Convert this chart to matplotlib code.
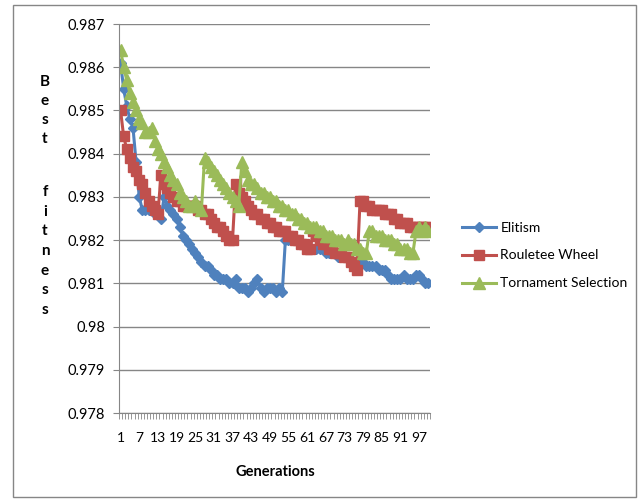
import numpy as np
import matplotlib
matplotlib.use("Agg")
import matplotlib.pyplot as plt
from matplotlib.patches import Rectangle

plt.rcParams['font.family'] = ['Lato', 'DejaVu Sans']

# generations 1..100
generations = np.arange(1, 101)

elitism = [0.9861, 0.9855, 0.9851, 0.9848, 0.9846, 0.9838, 0.9830, 0.9827, 0.9827, 0.9827,
           0.9827, 0.9826, 0.9826, 0.9825, 0.9830, 0.9828, 0.9827, 0.9826, 0.9825, 0.9823,
           0.9821, 0.9820, 0.9819, 0.9818, 0.9817, 0.9816, 0.9815, 0.9814, 0.9814, 0.9813,
           0.9812, 0.9812, 0.9811, 0.9811, 0.9811, 0.9810, 0.9810, 0.9811, 0.9809, 0.9809,
           0.9809, 0.9808, 0.9809, 0.9810, 0.9811, 0.9809, 0.9808, 0.9809, 0.9809, 0.9809,
           0.9808, 0.9809, 0.9808, 0.9820, 0.9820, 0.9821, 0.9820, 0.9820, 0.9819, 0.9819,
           0.9819, 0.9818, 0.9818, 0.9818, 0.9818, 0.9818, 0.9817, 0.9817, 0.9817, 0.9817,
           0.9816, 0.9816, 0.9816, 0.9816, 0.9815, 0.9815, 0.9815, 0.9815, 0.9815, 0.9814,
           0.9814, 0.9814, 0.9814, 0.9813, 0.9813, 0.9813, 0.9812, 0.9811, 0.9811, 0.9811,
           0.9811, 0.9812, 0.9811, 0.9811, 0.9811, 0.9812, 0.9812, 0.9811, 0.9810, 0.9810]

roulette = [0.9850, 0.9844, 0.9841, 0.9839, 0.9837, 0.9836, 0.9834, 0.9833, 0.9831, 0.9829,
            0.9828, 0.9827, 0.9826, 0.9835, 0.9833, 0.9832, 0.9831, 0.9830, 0.9829, 0.9829,
            0.9828, 0.9828, 0.9828, 0.9828, 0.9828, 0.9827, 0.9827, 0.9826, 0.9826, 0.9825,
            0.9824, 0.9823, 0.9823, 0.9822, 0.9821, 0.9820, 0.9820, 0.9833, 0.9831, 0.9830,
            0.9829, 0.9828, 0.9827, 0.9826, 0.9826, 0.9825, 0.9825, 0.9824, 0.9824, 0.9823,
            0.9823, 0.9822, 0.9822, 0.9822, 0.9821, 0.9821, 0.9820, 0.9820, 0.9819, 0.9819,
            0.9818, 0.9818, 0.9822, 0.9821, 0.9820, 0.9819, 0.9819, 0.9818, 0.9818, 0.9817,
            0.9817, 0.9817, 0.9816, 0.9816, 0.9815, 0.9814, 0.9813, 0.9829, 0.9829, 0.9828,
            0.9828, 0.9827, 0.9827, 0.9827, 0.9827, 0.9826, 0.9826, 0.9826, 0.9825, 0.9825,
            0.9824, 0.9824, 0.9824, 0.9823, 0.9823, 0.9823, 0.9823, 0.9823, 0.9823, 0.9823]

tournament = [0.9864, 0.9860, 0.9857, 0.9854, 0.9852, 0.9850, 0.9848, 0.9847, 0.9845, 0.9845,
              0.9846, 0.9843, 0.9841, 0.9840, 0.9838, 0.9837, 0.9835, 0.9834, 0.9833, 0.9831,
              0.9830, 0.9829, 0.9828, 0.9828, 0.9829, 0.9828, 0.9827, 0.9839, 0.9838, 0.9837,
              0.9836, 0.9835, 0.9834, 0.9833, 0.9832, 0.9831, 0.9830, 0.9829, 0.9828, 0.9838,
              0.9836, 0.9834, 0.9833, 0.9833, 0.9832, 0.9831, 0.9831, 0.9830, 0.9830, 0.9829,
              0.9829, 0.9828, 0.9828, 0.9827, 0.9827, 0.9826, 0.9826, 0.9825, 0.9825, 0.9824,
              0.9824, 0.9823, 0.9823, 0.9823, 0.9822, 0.9822, 0.9821, 0.9821, 0.9821, 0.9820,
              0.9820, 0.9820, 0.9819, 0.9820, 0.9819, 0.9819, 0.9818, 0.9818, 0.9817, 0.9817,
              0.9822, 0.9822, 0.9821, 0.9821, 0.9821, 0.9820, 0.9820, 0.9820, 0.9819, 0.9819,
              0.9818, 0.9818, 0.9818, 0.9817, 0.9817, 0.9822, 0.9823, 0.9822, 0.9823, 0.9822]

y_ticks = [0.978, 0.979, 0.98, 0.981, 0.982, 0.983, 0.984, 0.985, 0.986, 0.987]
x_labels = list(range(1, 101, 6))

fig = plt.figure(figsize=(6.4, 4.99), dpi=100)
ax = fig.add_axes([119/640, 1-413/499, 311/640, 389/499])

ax.plot(generations, elitism, color='#4F81BD', lw=2.2, marker='D', ms=5.5, label='Elitism')
ax.plot(generations, roulette, color='#C0504D', lw=2.2, marker='s', ms=6.5, label='Rouletee Wheel')
ax.plot(generations, tournament, color='#9BBB59', lw=2.2, marker='^', ms=8, label='Tornament Selection')

ax.set_xlim(0.5, 100.5)
ax.set_ylim(0.978, 0.987)
ax.set_yticks(y_ticks)
ax.set_yticklabels([('%.3f' % v).rstrip('0') for v in y_ticks])
ax.set_xticks(x_labels)
ax.set_xticklabels([str(v) for v in x_labels])
ax.set_xticks(np.arange(0.5, 101, 1), minor=True)
ax.tick_params(axis='x', which='major', length=0, pad=14, labelsize=10)
ax.tick_params(axis='x', which='minor', length=4, color='#868686', direction='out')
ax.tick_params(axis='y', length=4, color='#868686', labelsize=10.5, pad=6)
ax.grid(axis='y', color='#868686', lw=1)
ax.set_axisbelow(True)
for s in ['top', 'right']:
    ax.spines[s].set_visible(False)
for s in ['left', 'bottom']:
    ax.spines[s].set_color('#868686')

fig.text(275/640, 1-472/499, 'Generations', ha='center', va='center', fontsize=10.5, fontweight='bold')

# vertical stacked y label
for k, ch in enumerate('Best'):
    fig.text(45/640, 1-(82+19*k)/499, ch, ha='center', va='center', fontsize=11, fontweight='bold')
for k, ch in enumerate('fitness'):
    fig.text(45/640, 1-(192+19.7*k)/499, ch, ha='center', va='center', fontsize=11, fontweight='bold')

fig.legend(loc='upper left', bbox_to_anchor=(449/640, 1-209/499), frameon=False,
           fontsize=10, handlelength=2.5, labelspacing=1.15, handletextpad=0.3)

fig.patches.append(Rectangle((13/640, 1-497/499), 623/640, 492/499, transform=fig.transFigure,
                             fill=False, edgecolor='#868686', lw=1))

plt.savefig('out.png', dpi=100)
